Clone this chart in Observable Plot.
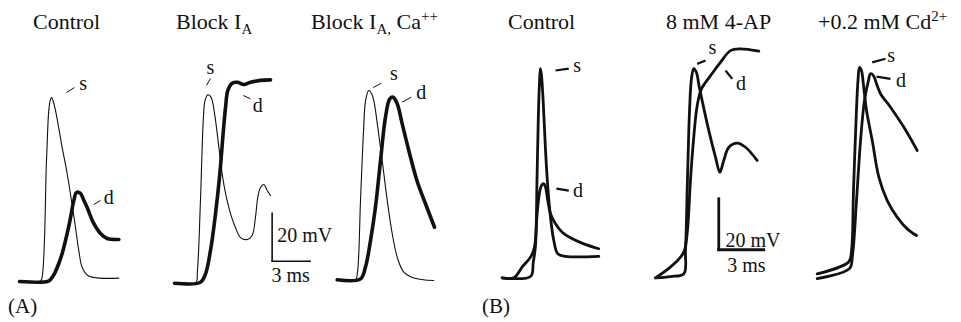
<!DOCTYPE html>
<html>
<head>
<meta charset="utf-8">
<script src="https://cdn.jsdelivr.net/npm/d3@7"></script>
<script src="https://cdn.jsdelivr.net/npm/@observablehq/plot@0.6"></script>
<style>
  body { margin: 0; background: #fff; }
  #fig { position: relative; width: 961px; height: 322px; font-family: "Liberation Serif", "Times New Roman", serif; color: #111; }
  #fig .plot { position: absolute; top: 0; }
  .ttl { position: absolute; font-size: 22px; line-height: 22px; white-space: nowrap; z-index: 2; }
  .ttl sub, .ttl sup { font-size: 15px; line-height: 0; }
  .pl { position: absolute; font-size: 21px; line-height: 21px; z-index: 2; }
</style>
</head>
<body>
<div id="fig"></div>
<script>
// ---------- Panel titles ----------
const titlesA = ["Control", "Block I<sub>A</sub>", "Block I<sub>A,</sub> Ca<sup>++</sup>"];
const titlesB = ["Control", "8 mM 4-AP", "+0.2 mM Cd<sup>2+</sup>"];

// ---------- Panel A traces: time (ms from panel start), membrane potential (mV above rest) ----------
const A1_s_t = [0, 1.6, 1.74, 2.13, 2.31, 2.42, 2.53, 2.64, 2.84, 3.37, 3.76, 4.10, 4.42, 4.68, 4.95, 5.39, 6.13, 7.84];
const A1_s_v = [0, 0, 0.8, 50.4, 71.3, 75.4, 76.7, 75.4, 71.3, 55.8, 45, 33.8, 22.5, 12.9, 5.8, 2.5, 1.5, 1.4];
const A1_d_t = [0, 2.21, 2.45, 2.76, 3.10, 3.39, 3.63, 3.87, 4.03, 4.29, 4.50, 4.81, 5.05, 5.34, 5.86, 6.39, 6.92, 7.84];
const A1_d_v = [0, 0, 0.8, 3.3, 7.5, 12.1, 17.1, 22.5, 26.7, 33.8, 37.1, 36.7, 34.2, 30.8, 24.2, 20, 17.9, 17.5];

const A2_s_t = [0, 1.66, 1.81, 2.05, 2.27, 2.41, 2.63, 2.84, 2.98, 3.24, 3.50, 3.76, 4.03, 4.42, 4.81, 5.21, 5.74, 6.13, 6.39, 6.57, 6.79, 7.05, 7.32, 7.58];
const A2_s_v = [-0.7, -0.7, 4.6, 33.8, 67.1, 75.4, 77.8, 77.1, 75.4, 67.1, 56, 45, 36.7, 28.3, 22.5, 18.3, 17.5, 19.2, 26.7, 35, 39.2, 40.4, 37.9, 35.8];
const A2_d_t = [0, 2.05, 2.45, 2.84, 3.24, 3.58, 3.84, 4.03, 4.21, 4.55, 4.95, 5.47, 6.00, 6.79, 7.58];
const A2_d_v = [-0.7, -0.3, 3.2, 12.9, 28.3, 45, 61.7, 72.6, 79.6, 82.6, 83, 82.1, 83, 83.8, 84];

const A3_s_t = [0, 1.44, 1.60, 1.84, 2.08, 2.24, 2.49, 2.71, 2.89, 3.20, 3.55, 3.95, 4.34, 4.74, 5.26, 6.05, 7.62];
const A3_s_v = [0.7, 0.7, 3.8, 33.8, 62.9, 75.4, 79.6, 78.3, 75.4, 64.3, 50.4, 33.8, 20, 10.1, 3.9, 1.5, 0.4];
const A3_d_t = [0, 1.84, 2.23, 2.63, 3.02, 3.42, 3.81, 4.15, 4.42, 4.74, 5.13, 5.65, 6.29, 6.96, 7.68];
const A3_d_v = [0.7, 1.1, 6, 17.1, 31, 50.4, 68.5, 76.1, 76.8, 74, 65.7, 54.6, 42.1, 32.5, 22.6];

// ---------- Panel B traces ----------
const B1_s_t = [0, 1.89, 2.07, 2.22, 2.32, 2.42, 2.51, 2.55, 2.62, 2.73, 2.89, 3.04, 3.22, 3.44, 3.71, 4.22, 6.44];
const B1_s_v = [0, 0.5, 6, 12.7, 38.2, 65.6, 79.3, 82, 79.3, 69.5, 49.9, 35.5, 23.8, 14.6, 9.4, 8.4, 8.4];
const B1_d_t = [0, 0.77, 1.35, 1.89, 2.15, 2.32, 2.49, 2.62, 2.77, 2.89, 3.04, 3.22, 3.55, 4.0, 4.55, 5.44, 6.44];
const B1_d_v = [0, 0, 4.4, 8.1, 12, 24.4, 33.5, 36.2, 36.9, 35.5, 30.3, 25.1, 21.2, 17.9, 15.7, 13.3, 11.4];

const B2_s_t = [0, 1.0, 1.89, 2.0, 2.13, 2.27, 2.4, 2.55, 2.73, 2.9, 3.11, 3.55, 4.0, 4.29, 4.55, 4.89, 5.45, 6.0, 6.78];
const B2_s_v = [0, 0.5, 1.6, 10.7, 38.2, 65.6, 78.2, 82, 80.5, 75.4, 69.5, 57.8, 47.3, 41.4, 46, 51.2, 52.8, 51.2, 46];
const B2_d_t = [0, 0.87, 1.67, 1.93, 2.13, 2.33, 2.53, 2.73, 2.89, 3.07, 3.33, 3.67, 4.33, 5.0, 5.67, 6.33, 6.89];
const B2_d_v = [0, 3.6, 8.1, 10.7, 18.5, 38.2, 53.8, 65.6, 70.8, 74.2, 76.6, 79.3, 84.5, 89.1, 89.8, 89.4, 88.9];

const B3_s_t = [0, 2.11, 2.29, 2.42, 2.59, 2.72, 2.82, 2.95, 3.09, 3.29, 3.67, 4.11, 4.67, 5.33, 6.0, 6.62];
const B3_s_v = [1.5, 6.3, 10.7, 34.2, 61.7, 77.4, 82.5, 81.3, 75.4, 65.6, 53.8, 39.5, 30.3, 23.8, 19.2, 16.6];
const B3_d_t = [0, 2.15, 2.35, 2.62, 2.89, 3.15, 3.42, 3.55, 3.75, 3.95, 4.22, 4.89, 5.77, 6.67];
const B3_d_v = [-0.3, 3.6, 8.7, 30.3, 53.8, 69.5, 77.4, 80, 79.3, 76.2, 72.2, 66.9, 59.1, 49.9];

// ---------- Annotation labels (s / d) : [x ms, y mV] baseline, and leader ticks ----------
const labelsA = [
  {text: "s", t: 6.53, v: 79.6}, {text: "d", t: 8.55, v: 32.4},
  {text: "s", t: 16.57, v: 86.5}, {text: "d", t: 20.31, v: 70.5},
  {text: "s", t: 31.04, v: 83.75}, {text: "d", t: 33.20, v: 76.1}
];
const ticksA = [
  [5.21, 78.75, 5.84, 80.8], [7.36, 32.1, 7.89, 33.75],
  [16.26, 81.7, 16.57, 84.6], [19.16, 77.5, 19.73, 76.1],
  [29.42, 80.8, 30.05, 82.6], [31.70, 74.7, 32.42, 76.8]
];
const labelsB = [
  {text: "s", t: 7.11, v: 80.6}, {text: "d", t: 7.17, v: 31.6},
  {text: "s", t: 16.13, v: 87.8}, {text: "d", t: 18.03, v: 73.7},
  {text: "s", t: 28.05, v: 84.5}, {text: "d", t: 28.7, v: 75.0}
];
const ticksB = [
  [5.67, 81.3, 6.55, 82.0], [5.73, 35.0, 6.55, 34.2],
  [15.11, 83.9, 15.67, 85.2], [17.0, 81.3, 17.45, 78.0],
  [26.78, 84.5, 27.67, 85.9], [27.07, 78.9, 28.0, 78.0]
];

// ---------- Scale bars: 20 mV, 3 ms ----------
const scaleMV = 20, scaleMS = 3;
const barA = {t: 21.44, v: 8.46};
const barB = {t: 16.55, v: 11.0};

// ---------- layout (not data) ----------
const offA = [1.5, 13.733, 26.575];
const offB = [2.113, 12.333, 23.113];
const FONT = "Liberation Serif, Times New Roman, serif";

function trace(off, ts, vs) { return ts.map((t, i) => ({t: off + t, v: vs[i]})); }
function series(list) { return list.map(([off, ts, vs], k) => ({k, pts: trace(off, ts, vs)})).flatMap(d => d.pts.map(p => ({...p, k: d.k}))); }

const A_thin = series([[offA[0], A1_s_t, A1_s_v], [offA[1], A2_s_t, A2_s_v], [offA[2], A3_s_t, A3_s_v]]);
const A_thick = series([[offA[0], A1_d_t, A1_d_v], [offA[1], A2_d_t, A2_d_v], [offA[2], A3_d_t, A3_d_v]]);
const B_all = series([[offB[0], B1_s_t, B1_s_v], [offB[0], B1_d_t, B1_d_v], [offB[1], B2_s_t, B2_s_v],
                      [offB[1], B2_d_t, B2_d_v], [offB[2], B3_s_t, B3_s_v], [offB[2], B3_d_t, B3_d_v]]);

function scaleBar(bar, w, textW) {
  const links = [
    {x1: bar.t, y1: bar.v, x2: bar.t, y2: bar.v + scaleMV},
    {x1: bar.t, y1: bar.v, x2: bar.t + scaleMS, y2: bar.v}
  ];
  return Plot.link(links, {x1: "x1", y1: "y1", x2: "x2", y2: "y2", stroke: "#111", strokeWidth: w, strokeLinecap: "square"});
}

const plotA = Plot.plot({
  width: 470, height: 322, margin: 0,
  x: {domain: [0, 470 / 12.67], axis: null},
  y: {domain: [-17.08, 117.08], axis: null},
  marks: [
    Plot.line(A_thin, {x: "t", y: "v", z: "k", stroke: "#111", strokeWidth: 1.1, curve: "catmull-rom"}),
    Plot.line(A_thick, {x: "t", y: "v", z: "k", stroke: "#111", strokeWidth: 3.6, curve: "catmull-rom"}),
    Plot.link(ticksA, {x1: d => d[0], y1: d => d[1], x2: d => d[2], y2: d => d[3], stroke: "#111", strokeWidth: 1}),
    Plot.text(labelsA, {x: "t", y: "v", text: "text", fontSize: 20, fontFamily: FONT, lineAnchor: "bottom", fill: "#111"}),
    scaleBar(barA, 1.6),
    Plot.text([`${scaleMV} mV`], {x: barA.t + 0.4, y: barA.v + 8, text: d => d, textAnchor: "start", lineAnchor: "bottom", fontSize: 20, fontFamily: FONT, fill: "#111"}),
    Plot.text([`${scaleMS} ms`], {x: barA.t - 0.06, y: barA.v - 8.8, text: d => d, textAnchor: "start", lineAnchor: "bottom", fontSize: 20, fontFamily: FONT, fill: "#111"})
  ]
});

const plotB = Plot.plot({
  width: 491, height: 322, margin: 0,
  x: {domain: [0, 491 / 15], axis: null},
  y: {domain: [-17.53, 108.75], axis: null},
  marks: [
    Plot.line(B_all, {x: "t", y: "v", z: "k", stroke: "#111", strokeWidth: 2.8, curve: "catmull-rom"}),
    Plot.link(ticksB, {x1: d => d[0], y1: d => d[1], x2: d => d[2], y2: d => d[3], stroke: "#111", strokeWidth: 2.2}),
    Plot.text(labelsB, {x: "t", y: "v", text: "text", fontSize: 20, fontFamily: FONT, lineAnchor: "bottom", fill: "#111"}),
    scaleBar(barB, 2.8),
    Plot.text([`${scaleMV} mV`], {x: barB.t + 0.45, y: barB.v + 1.0, text: d => d, textAnchor: "start", lineAnchor: "bottom", fontSize: 20, fontFamily: FONT, fill: "#111"}),
    Plot.text([`${scaleMS} ms`], {x: barB.t + 0.56, y: barB.v - 8.8, text: d => d, textAnchor: "start", lineAnchor: "bottom", fontSize: 20, fontFamily: FONT, fill: "#111"})
  ]
});

const fig = document.getElementById("fig");
plotA.classList.add("plot"); plotA.style.left = "0px";
plotB.classList.add("plot"); plotB.style.left = "470px";
fig.appendChild(plotA); fig.appendChild(plotB);

const titleLeft = [33, 176, 311, 508, 666, 818];
[...titlesA, ...titlesB].forEach((h, i) => {
  const el = document.createElement("div");
  el.className = "ttl"; el.innerHTML = h;
  el.style.left = titleLeft[i] + "px"; el.style.top = "11px";
  fig.appendChild(el);
});
[["(A)", 8], ["(B)", 482]].forEach(([t, x]) => {
  const el = document.createElement("div");
  el.className = "pl"; el.textContent = t;
  el.style.left = x + "px"; el.style.top = "296px";
  fig.appendChild(el);
});
</script>
</body>
</html>
